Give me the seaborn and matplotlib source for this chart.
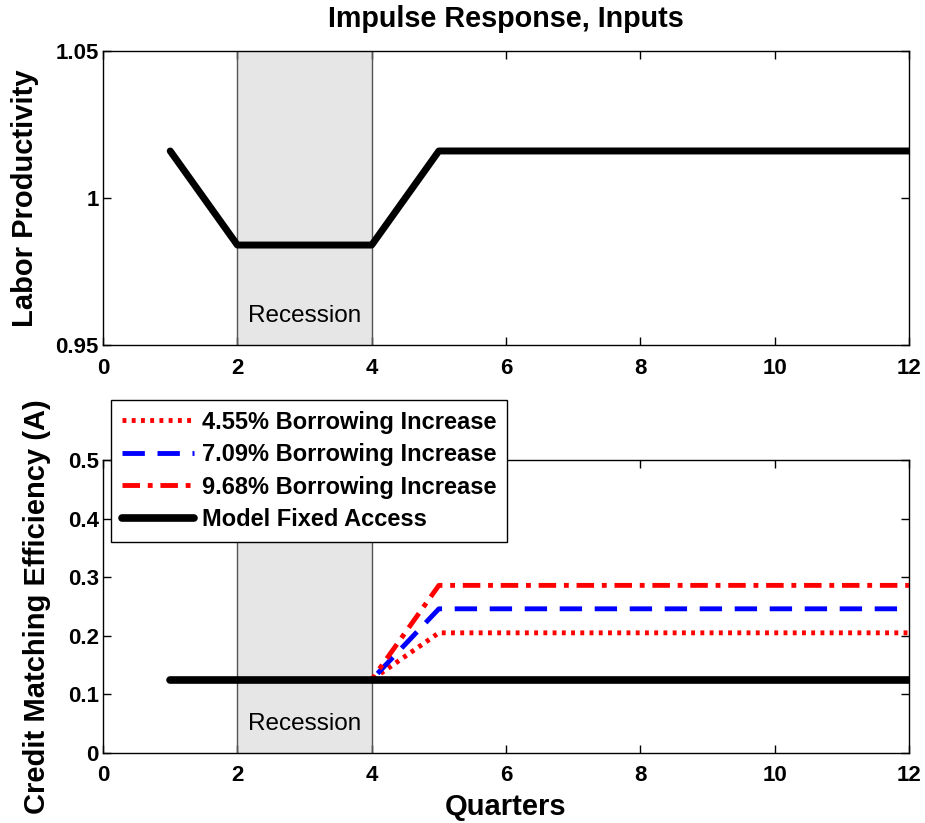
import matplotlib
matplotlib.use("Agg")
import matplotlib.pyplot as plt
import matplotlib.transforms as mtransforms
import seaborn as sns

quarters = [1, 2, 3, 4, 5, 6, 7, 8, 9, 10, 11, 12]
labor_productivity = [1.016, 0.984, 0.984, 0.984, 1.016, 1.016, 1.016, 1.016, 1.016, 1.016, 1.016, 1.016]

fixed_access = [0.125] * 12
borrow_455 = [0.125, 0.125, 0.125, 0.125, 0.205, 0.205, 0.205, 0.205, 0.205, 0.205, 0.205, 0.205]
borrow_709 = [0.125, 0.125, 0.125, 0.125, 0.246, 0.246, 0.246, 0.246, 0.246, 0.246, 0.246, 0.246]
borrow_968 = [0.125, 0.125, 0.125, 0.125, 0.286, 0.286, 0.286, 0.286, 0.286, 0.286, 0.286, 0.286]

recession = (2, 4)
x_ticks = [0, 2, 4, 6, 8, 10, 12]
top_yticks = [0.95, 1.0, 1.05]
top_yticklabels = ["0.95", "1", "1.05"]
bottom_yticks = [0, 0.1, 0.2, 0.3, 0.4, 0.5]
bottom_yticklabels = ["0", "0.1", "0.2", "0.3", "0.4", "0.5"]

sns.set_style("white")
plt.rcParams['font.family'] = ['Liberation Sans', 'DejaVu Sans']
plt.rcParams['text.color'] = 'black'
plt.rcParams['axes.labelcolor'] = 'black'
plt.rcParams['xtick.color'] = 'black'
plt.rcParams['ytick.color'] = 'black'

fig = plt.figure(figsize=(9.25, 8.23), dpi=100)
ax1 = fig.add_axes([0.1114, 0.5808, 0.8713, 0.3572])
ax2 = fig.add_axes([0.1114, 0.0851, 0.8713, 0.3560])


def shade_recession(ax):
    ax.axvspan(recession[0], recession[1], color='#e6e6e6', zorder=0, lw=0)
    for xv in recession:
        ax.axvline(xv, color='#555555', lw=1.0, zorder=1)
    trans = mtransforms.blended_transform_factory(ax.transData, ax.transAxes)
    ax.text(sum(recession) / 2, 0.10, "Recession", transform=trans,
            ha='center', va='center', fontsize=17.5, color='black', zorder=2)


def style_axes(ax):
    ax.set_xlim(0, 12)
    ax.set_xticks(x_ticks)
    ax.set_xticklabels([str(t) for t in x_ticks], fontweight='bold', fontsize=16)
    ax.tick_params(direction='in', length=6, width=1, top=True, right=True,
                   bottom=True, left=True, colors='black')
    ax.tick_params(axis='x', pad=9)
    ax.tick_params(axis='y', pad=3)
    for sp in ax.spines.values():
        sp.set_color('black')
        sp.set_linewidth(1.0)
        sp.set_visible(True)


# top panel
shade_recession(ax1)
sns.lineplot(x=quarters, y=labor_productivity, ax=ax1, color='black', lw=5, zorder=3)
style_axes(ax1)
ax1.set_ylim(0.95, 1.05)
ax1.set_yticks(top_yticks)
ax1.set_yticklabels(top_yticklabels, fontweight='bold', fontsize=16)
ax1.set_ylabel("Labor Productivity", fontsize=21, fontweight='bold', labelpad=12)
ax1.set_title("Impulse Response, Inputs", fontsize=20.7, fontweight='bold', pad=17)

# bottom panel
shade_recession(ax2)
l1 = sns.lineplot(x=quarters, y=borrow_455, ax=ax2, color='red', lw=3.5, zorder=3,
                  label="4.55% Borrowing Increase").lines[-1]
l1.set_dashes((0.8, 1.1))
l2 = sns.lineplot(x=quarters, y=borrow_709, ax=ax2, color='blue', lw=3.5, zorder=3,
                  label="7.09% Borrowing Increase").lines[-1]
l2.set_dashes((4.6, 2.6))
l3 = sns.lineplot(x=quarters, y=borrow_968, ax=ax2, color='red', lw=3.5, zorder=3,
                  label="9.68% Borrowing Increase").lines[-1]
l3.set_dashes((3.6, 1.6, 1.0, 1.6))
sns.lineplot(x=quarters, y=fixed_access, ax=ax2, color='black', lw=5.5, zorder=4,
             label="Model Fixed Access")
style_axes(ax2)
ax2.set_ylim(0, 0.5)
ax2.set_yticks(bottom_yticks)
ax2.set_yticklabels(bottom_yticklabels, fontweight='bold', fontsize=16)
ax2.set_ylabel("Credit Matching Efficiency (A)", fontsize=21, fontweight='bold', labelpad=12)
ax2.set_xlabel("Quarters", fontsize=21, fontweight='bold', labelpad=5)

leg = ax2.legend(loc='upper left', bbox_to_anchor=(111 / 925, 1 - 400 / 823),
                 bbox_transform=fig.transFigure, frameon=True, fancybox=False,
                 edgecolor='black', framealpha=1, borderaxespad=0,
                 prop={'weight': 'bold', 'size': 17}, handlelength=3.05,
                 handletextpad=0.35, labelspacing=0.4, borderpad=0.45)
leg.get_frame().set_linewidth(1.0)
leg.set_zorder(10)
for t in leg.get_texts():
    t.set_color('black')

fig.savefig("out.png", dpi=100)
